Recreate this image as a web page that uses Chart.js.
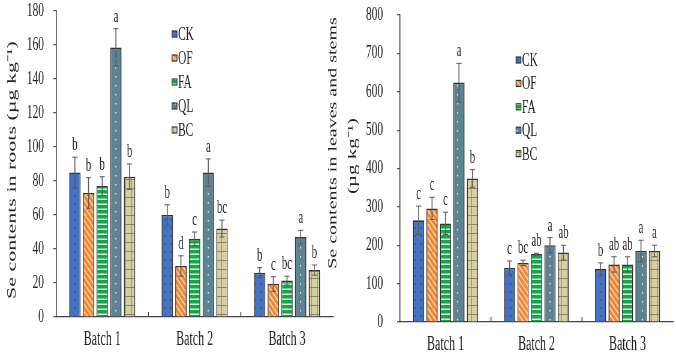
<!DOCTYPE html>
<html>
<head>
<meta charset="utf-8">
<script src="https://cdn.jsdelivr.net/npm/chart.js@4.4.1/dist/chart.umd.min.js"></script>
<style>
  body { margin: 0; background: #fff; width: 676px; height: 356px; overflow: hidden; position: relative; }
  .panel { position: absolute; top: 0; height: 356px; transform-origin: 0 0; }
</style>
</head>
<body>
<div class="panel" id="p1" style="left:0"><canvas id="roots" height="356"></canvas></div>
<div class="panel" id="p2" style="left:322px"><canvas id="stems" height="356"></canvas></div>
<script>
const batches = ['Batch 1', 'Batch 2', 'Batch 3'];
const treatments = ['CK', 'OF', 'FA', 'QL', 'BC'];

// one row per treatment, one value per batch
const rootMean = [
  [85, 60, 26],
  [73, 30, 19.4],
  [77, 46, 21.4],
  [158.6, 85, 47],
  [82.5, 52, 27.6]
];
const rootErr = [
  [9, 6, 3],
  [9, 6, 4.3],
  [5.5, 4, 2.6],
  [11, 8, 4],
  [7.5, 5, 3]
];
const rootLetters = [
  ['b', 'b', 'b'],
  ['b', 'd', 'c'],
  ['b', 'c', 'bc'],
  ['a', 'a', 'a'],
  ['b', 'bc', 'b']
];
const rootTicks = [0, 20, 40, 60, 80, 100, 120, 140, 160, 180];

const stemMean = [
  [265, 141, 138],
  [296, 154, 150],
  [257, 177, 150],
  [624, 200, 185],
  [374, 181, 185]
];
const stemErr = [
  [37, 18, 16],
  [29, 7, 20],
  [29, 2, 20],
  [50, 20, 28],
  [23, 19, 15]
];
const stemLetters = [
  ['c', 'c', 'b'],
  ['c', 'bc', 'ab'],
  ['c', 'ab', 'ab'],
  ['a', 'a', 'a'],
  ['b', 'ab', 'a']
];
const stemTicks = [0, 100, 200, 300, 400, 500, 600, 700, 800];

// the original figure is squeezed sideways, so each panel is drawn wide and scaled down in x
const C = 0.6;
const L = v => v / C;
const serif = '"Liberation Serif", "Times New Roman", serif';

const makePattern = (kind) => {
  const c = document.createElement('canvas');
  let g;
  if (kind === 'CK') {
    c.width = 10; c.height = 8; g = c.getContext('2d');
    g.fillStyle = '#4672c2'; g.fillRect(0, 0, 10, 8);
    g.fillStyle = '#2c4d8c'; g.fillRect(4, 3, 2, 1.5);
  } else if (kind === 'OF') {
    c.width = 8; c.height = 7; g = c.getContext('2d');
    g.fillStyle = '#ee8632'; g.fillRect(0, 0, 8, 7);
    g.strokeStyle = '#fbd3ac'; g.lineWidth = 1.8;
    g.beginPath();
    g.moveTo(0, 0); g.lineTo(8, 7);
    g.moveTo(-8, 0); g.lineTo(0, 7);
    g.moveTo(8, 0); g.lineTo(16, 7);
    g.stroke();
  } else if (kind === 'FA') {
    c.width = 4; c.height = 5; g = c.getContext('2d');
    g.fillStyle = '#14a64a'; g.fillRect(0, 0, 4, 5);
    g.fillStyle = '#d9f1de'; g.fillRect(0, 3.5, 4, 1.5);
  } else if (kind === 'QL') {
    c.width = 11; c.height = 9; g = c.getContext('2d');
    g.fillStyle = '#5e8393'; g.fillRect(0, 0, 11, 9);
    g.fillStyle = '#e2ecee'; g.fillRect(5, 4, 2, 1.5);
  } else {
    c.width = 10; c.height = 9; g = c.getContext('2d');
    g.fillStyle = '#d6cfa4'; g.fillRect(0, 0, 10, 9);
    g.fillStyle = '#8c8463'; g.fillRect(9, 0, 1.5, 9); g.fillRect(0, 8, 10, 1);
  }
  return g.createPattern(c, 'repeat');
};

const fills = treatments.map(t => makePattern(t));

const errorBars = {
  id: 'errorBars',
  afterDatasetsDraw(chart) {
    const ctx = chart.ctx;
    const y = chart.scales.y;
    ctx.save();
    chart.data.datasets.forEach((ds, i) => {
      chart.getDatasetMeta(i).data.forEach((bar, j) => {
        const top = y.getPixelForValue(ds.data[j] + ds.err[j]);
        const low = y.getPixelForValue(ds.data[j] - ds.err[j]);
        ctx.strokeStyle = '#5a5a5a';
        ctx.lineWidth = 1.6;
        ctx.beginPath();
        ctx.moveTo(bar.x, low); ctx.lineTo(bar.x, top);
        ctx.stroke();
        ctx.lineWidth = 1;
        ctx.beginPath();
        ctx.moveTo(bar.x - L(2.6), top); ctx.lineTo(bar.x + L(2.6), top);
        ctx.moveTo(bar.x - L(2.6), low); ctx.lineTo(bar.x + L(2.6), low);
        ctx.stroke();
        ctx.fillStyle = '#222';
        ctx.font = '18px ' + serif;
        ctx.textAlign = 'center';
        ctx.textBaseline = 'alphabetic';
        ctx.fillText(ds.letters[j], bar.x, top - 7);
      });
    });
    ctx.restore();
  }
};

// small inward ticks between the batches
const batchTicks = {
  id: 'batchTicks',
  afterDraw(chart) {
    const ctx = chart.ctx;
    const x = chart.scales.x;
    const bottom = chart.chartArea.bottom;
    ctx.save();
    ctx.strokeStyle = '#444';
    ctx.lineWidth = 1.6;
    for (let i = 1; i < batches.length; i++) {
      const px = (x.getPixelForValue(i - 1) + x.getPixelForValue(i)) / 2;
      ctx.beginPath();
      ctx.moveTo(px, bottom); ctx.lineTo(px, bottom - 5);
      ctx.stroke();
    }
    ctx.restore();
  }
};

const boxLegend = (left, top, step) => ({
  id: 'boxLegend',
  afterDraw(chart) {
    const ctx = chart.ctx;
    ctx.save();
    ctx.font = '19px ' + serif;
    ctx.textBaseline = 'middle';
    ctx.textAlign = 'left';
    chart.data.datasets.forEach((ds, i) => {
      const cy = top + i * step;
      ctx.fillStyle = ds.backgroundColor;
      ctx.fillRect(L(left), cy - 3, L(5), 6);
      ctx.strokeStyle = '#333';
      ctx.lineWidth = 1.2;
      ctx.strokeRect(L(left), cy - 3, L(5), 6);
      ctx.fillStyle = '#222';
      ctx.fillText(ds.label, L(left + 6), cy + 1);
    });
    ctx.restore();
  }
});

const sideTitle = (lines) => ({
  id: 'sideTitle',
  afterDraw(chart) {
    const ctx = chart.ctx;
    ctx.save();
    ctx.fillStyle = '#222';
    ctx.textAlign = 'center';
    ctx.textBaseline = 'middle';
    lines.forEach(l => {
      ctx.save();
      ctx.font = l.size + 'px ' + serif;
      ctx.translate(L(l.x), l.y);
      ctx.rotate(-Math.PI / 2);
      ctx.fillText(l.text, 0, 0);
      ctx.restore();
    });
    ctx.restore();
  }
});

// box values are display pixels
const makeChart = (id, panel, mean, err, letters, ticks, box, plugins) => {
  const canvas = document.getElementById(id);
  canvas.width = Math.round(L(box.width));
  document.getElementById(panel).style.transform = 'scaleX(' + C + ')';
  new Chart(canvas, {
    type: 'bar',
    data: {
      labels: batches,
      datasets: treatments.map((t, i) => ({
        label: t,
        data: mean[i],
        err: err[i],
        letters: letters[i],
        backgroundColor: fills[i],
        borderColor: '#333',
        borderWidth: 1.6,
        barPercentage: 0.83,
        categoryPercentage: 0.74
      }))
    },
    options: {
      responsive: false,
      animation: false,
      devicePixelRatio: 1,
      layout: { padding: { left: 0, right: L(box.right), top: box.top, bottom: 0 } },
      plugins: { legend: { display: false }, tooltip: { enabled: false } },
      scales: {
        x: {
          grid: { display: false, drawTicks: false },
          border: { display: true, color: '#444', width: 1.2 },
          ticks: { color: '#222', padding: box.xPad, font: { family: serif, size: 20 } },
          afterFit: s => { s.height = box.xHeight; }
        },
        y: {
          min: ticks[0],
          max: ticks[ticks.length - 1],
          grid: { display: true, drawOnChartArea: false, drawTicks: true, tickLength: L(3), color: '#555', lineWidth: 1.2 },
          border: { display: true, color: '#444', width: 1.6 },
          ticks: { stepSize: ticks[1] - ticks[0], color: '#222', padding: L(box.yPad), font: { family: serif, size: 19 } },
          afterFit: s => {
            s.width = L(box.axisX);
            s.paddingTop = 0;
            s.paddingBottom = 0;
          }
        }
      }
    },
    plugins: [errorBars, batchTicks].concat(plugins)
  });
};

makeChart('roots', 'p1', rootMean, rootErr, rootLetters, rootTicks,
  { width: 340, right: 7, top: 11, xHeight: 39, axisX: 56, xPad: 11, yPad: 9 },
  [boxLegend(172, 34, 24),
   sideTitle([{ text: 'Se contents in roots (\u00b5g kg\u207b\u00b9)', x: 12, y: 170, size: 22 }])]);

makeChart('stems', 'p2', stemMean, stemErr, stemLetters, stemTicks,
  { width: 354, right: 3, top: 15, xHeight: 34, axisX: 78, xPad: 11, yPad: 14 },
  [boxLegend(194, 60, 23.4),
   sideTitle([{ text: 'Se contents in leaves and stems', x: 11, y: 143, size: 20 },
              { text: '(\u00b5g kg\u207b\u00b9)', x: 31, y: 156, size: 21 }])]);
</script>
</body>
</html>
